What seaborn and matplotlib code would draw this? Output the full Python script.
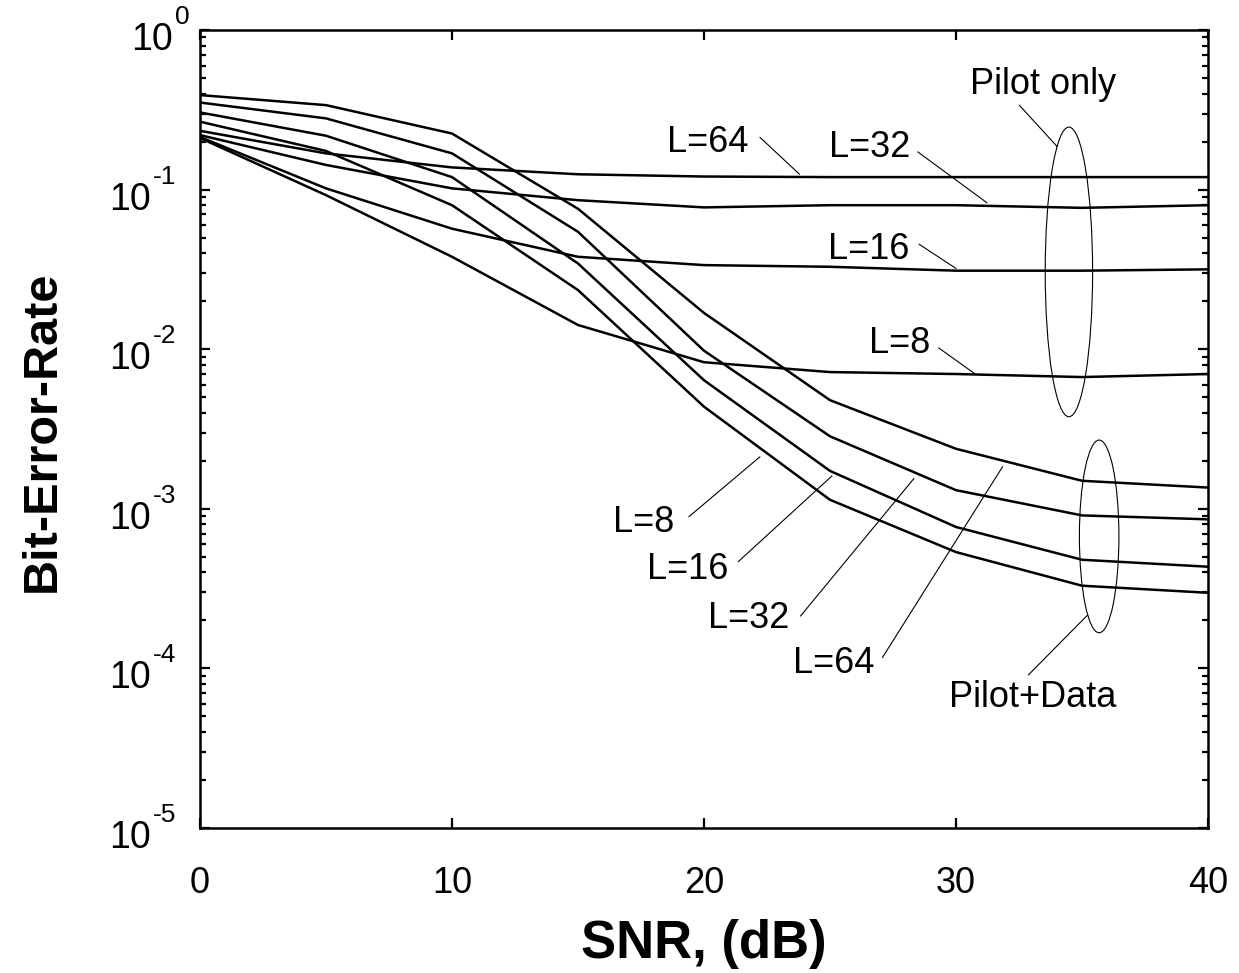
import numpy as np
import pandas as pd
import seaborn as sns
import matplotlib.pyplot as plt
from matplotlib.patches import Ellipse
from matplotlib.transforms import offset_copy
from matplotlib.ticker import LogLocator, NullFormatter, FixedLocator

# SNR grid (dB)
snr = [0, 5, 10, 15, 20, 25, 30, 35, 40]

# Pilot only
po_8 = [0.211, 0.0925, 0.038, 0.0142, 0.0083, 0.0072, 0.0070, 0.0067, 0.0070]
po_16 = [0.214, 0.102, 0.057, 0.038, 0.0337, 0.0329, 0.0311, 0.0311, 0.0317]
po_32 = [0.220, 0.143, 0.102, 0.086, 0.0775, 0.080, 0.080, 0.077, 0.080]
po_64 = [0.234, 0.169, 0.138, 0.125, 0.121, 0.120, 0.120, 0.120, 0.120]

# Pilot + Data
pd_8 = [0.267, 0.175, 0.080, 0.0235, 0.00437, 0.00114, 5.36e-4, 3.3e-4, 2.98e-4]
pd_16 = [0.305, 0.218, 0.120, 0.0345, 0.0064, 0.00173, 7.7e-4, 4.8e-4, 4.34e-4]
pd_32 = [0.352, 0.280, 0.169, 0.0545, 0.0098, 0.00285, 0.00131, 9.1e-4, 8.6e-4]
pd_64 = [0.392, 0.339, 0.225, 0.076, 0.0169, 0.0048, 0.00238, 0.0015, 0.00136]

curves = {
    "PO L=8": po_8, "PO L=16": po_16, "PO L=32": po_32, "PO L=64": po_64,
    "PD L=8": pd_8, "PD L=16": pd_16, "PD L=32": pd_32, "PD L=64": pd_64,
}
df = pd.concat(
    [pd.DataFrame({"snr": snr, "ber": v, "curve": k}) for k, v in curves.items()],
    ignore_index=True,
)

y_exps = [0, -1, -2, -3, -4, -5]

sns.set_style("ticks")
plt.rcParams["font.family"] = ["Liberation Sans", "DejaVu Sans"]
for key in ["text.color", "axes.labelcolor", "xtick.color", "ytick.color", "axes.edgecolor"]:
    plt.rcParams[key] = "black"

fig = plt.figure(figsize=(12.39, 9.73), dpi=100)
ax = fig.add_axes([0.1614, 0.149, 0.8136, 0.820])

sns.lineplot(data=df, x="snr", y="ber", units="curve", estimator=None,
             color="black", linewidth=1.8, ax=ax)

ax.set_yscale("log")
ax.set_xlim(0, 40)
ax.set_ylim(1e-5, 1)

ax.xaxis.set_major_locator(FixedLocator([0, 10, 20, 30, 40]))
ax.yaxis.set_major_locator(FixedLocator([10.0 ** e for e in y_exps]))
ax.yaxis.set_major_formatter(NullFormatter())
ax.yaxis.set_minor_locator(LogLocator(base=10, subs=np.arange(2, 10), numticks=20))
ax.yaxis.set_minor_formatter(NullFormatter())

ax.tick_params(axis="both", which="both", direction="in", top=True, right=True,
               width=1.6)
ax.tick_params(axis="x", which="major", length=7, pad=27, labelsize=26)
ax.tick_params(axis="y", which="major", length=7)
ax.tick_params(axis="y", which="minor", length=4)
for s in ax.spines.values():
    s.set_linewidth(1.8)

# y tick labels drawn as "10" plus a raised exponent
ytr = ax.get_yaxis_transform()
for e in y_exps:
    right = -27 if e == 0 else -49
    base_tr = offset_copy(ytr, fig=fig, x=right, y=-10, units="dots")
    exp_tr = offset_copy(ytr, fig=fig, x=right + 2, y=13, units="dots")
    ax.text(0, 10.0 ** e, "10", transform=base_tr, fontsize=27,
            ha="right", va="center")
    ax.text(0, 10.0 ** e, str(e), transform=exp_tr, fontsize=19,
            ha="left", va="center")

ax.set_xlabel("SNR, (dB)", fontsize=38, fontweight="bold")
ax.set_ylabel("Bit-Error-Rate", fontsize=35, fontweight="bold")
ax.xaxis.set_label_coords(0.5, -0.114)
ax.yaxis.set_label_coords(-0.134, 0.4975)

# labels: (text, text x, text y, leader start, leader end)
notes = [
    ("Pilot only", 33.45, 0.459, (32.51, 0.339), (34.02, 0.186)),
    ("L=64", 20.16, 0.199, (22.22, 0.213), (23.79, 0.125)),
    ("L=32", 26.59, 0.185, (28.48, 0.1728), (31.23, 0.0828)),
    ("L=16", 26.55, 0.0425, (28.53, 0.0456), (30.0, 0.0321)),
    ("L=8", 27.78, 0.01094, (29.31, 0.01021), (30.73, 0.00706)),
    ("L=8", 17.62, 8.26e-4, (19.40, 8.93e-4), (22.22, 2.12e-3)),
    ("L=16", 19.37, 4.14e-4, (21.36, 4.67e-4), (25.08, 1.61e-3)),
    ("L=32", 21.79, 2.07e-4, (23.83, 2.13e-4), (28.33, 1.55e-3)),
    ("L=64", 25.16, 1.07e-4, (27.08, 1.17e-4), (31.85, 1.84e-3)),
    ("Pilot+Data", 33.06, 6.62e-5, (32.87, 9.1e-5), (35.22, 2.16e-4)),
]
for txt, tx, ty, p0, p1 in notes:
    ax.text(tx, ty, txt, fontsize=26, ha="center", va="center")
    ax.plot([p0[0], p1[0]], [p0[1], p1[1]], color="black", lw=0.8)

# group ellipses (axes fraction)
ax.add_patch(Ellipse((0.862, 0.697), 0.047, 0.363, transform=ax.transAxes,
                     fill=False, lw=0.8, ec="black"))
ax.add_patch(Ellipse((0.892, 0.3655), 0.0392, 0.2415, transform=ax.transAxes,
                     fill=False, lw=0.8, ec="black"))

fig.savefig("out.png", dpi=100)
